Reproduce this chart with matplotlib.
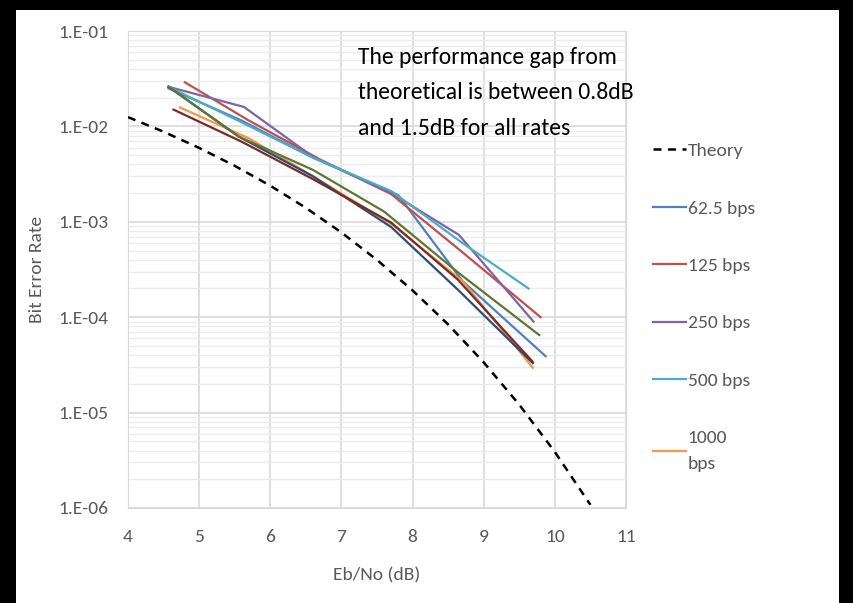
import math
import matplotlib
matplotlib.use("Agg")
import matplotlib.pyplot as plt
from matplotlib.patches import Rectangle
from matplotlib.ticker import LogLocator, FixedLocator, FuncFormatter

FONT = ['Carlito', 'Liberation Sans Narrow', 'DejaVu Sans']
plt.rcParams['font.family'] = FONT

# ---- data ----
theory_x = [4.0, 4.5, 5.0, 5.5, 6.0, 6.5, 7.0, 7.5, 8.0, 8.5, 9.0, 9.5, 10.0, 10.5]
theory_y = [1.25e-2, 8.8e-3, 5.95e-3, 3.86e-3, 2.39e-3, 1.40e-3, 7.73e-4, 3.98e-4,
            1.91e-4, 8.4e-5, 3.36e-5, 1.21e-5, 3.87e-6, 1.08e-6]

x_62 = [4.57, 5.6, 6.6, 7.8, 8.7, 9.87]
y_62 = [2.5e-2, 1.15e-2, 4.7e-3, 1.9e-3, 2.4e-4, 3.9e-5]

x_125 = [4.8, 5.7, 6.7, 7.7, 8.7, 9.8]
y_125 = [2.9e-2, 1.15e-2, 4.5e-3, 1.95e-3, 4.8e-4, 1.0e-4]

x_250 = [4.57, 5.63, 6.6, 7.7, 8.65, 9.7]
y_250 = [2.6e-2, 1.6e-2, 4.8e-3, 2.0e-3, 7.3e-4, 9.0e-5]

x_500 = [4.57, 5.6, 6.6, 7.7, 8.7, 9.63]
y_500 = [2.6e-2, 1.1e-2, 4.7e-3, 2.1e-3, 6.0e-4, 2.0e-4]

x_1000 = [4.73, 5.7, 6.6, 7.7, 8.7, 9.69]
y_1000 = [1.58e-2, 7.5e-3, 3.0e-3, 9.5e-4, 2.4e-4, 2.95e-5]

x_s7 = [4.57, 5.56, 6.6, 7.7, 8.65, 9.69]
y_s7 = [2.6e-2, 7.8e-3, 3.0e-3, 8.8e-4, 1.9e-4, 3.3e-5]

x_s8 = [4.64, 5.6, 6.6, 7.7, 8.63, 9.69]
y_s8 = [1.5e-2, 6.9e-3, 2.8e-3, 9.8e-4, 2.5e-4, 3.4e-5]

x_s9 = [4.57, 5.56, 6.6, 7.6, 8.65, 9.78]
y_s9 = [2.6e-2, 7.8e-3, 3.5e-3, 1.28e-3, 2.9e-4, 6.5e-5]

x_ticks = [4, 5, 6, 7, 8, 9, 10, 11]
legend_labels = ['Theory', '62.5 bps', '125 bps', '250 bps', '500 bps', '1000\nbps']

# ---- figure ----
fig = plt.figure(figsize=(8.54, 6.03), dpi=100, facecolor='black')
fig.patches.append(Rectangle((16/854, 0), (839-16)/854, 1 - 10/603,
                             transform=fig.transFigure, facecolor='white',
                             edgecolor='none', zorder=-10))

ax = fig.add_axes([128/854, 1 - 508/603, (626-128)/854, (508-31)/603])
ax.set_facecolor('white')

lw = 1.6
ax.plot(theory_x, theory_y, color='black', lw=1.8, ls=(0, (3.2, 2.6)), label=legend_labels[0], zorder=3)
ax.plot(x_62, y_62, color='#4F81BD', lw=lw, label=legend_labels[1], zorder=4)
ax.plot(x_125, y_125, color='#C0504D', lw=lw, label=legend_labels[2], zorder=4)
ax.plot(x_250, y_250, color='#8064A2', lw=lw, label=legend_labels[3], zorder=4)
ax.plot(x_500, y_500, color='#4BACC6', lw=lw, label=legend_labels[4], zorder=4)
ax.plot(x_1000, y_1000, color='#F79646', lw=lw, label=legend_labels[5], zorder=4)
ax.plot(x_s7, y_s7, color='#2C4D75', lw=lw, zorder=4)
ax.plot(x_s8, y_s8, color='#772C2A', lw=lw, zorder=4)
ax.plot(x_s9, y_s9, color='#5F7530', lw=lw, zorder=4)

ax.set_yscale('log')
ax.set_xlim(4, 11)
ax.set_ylim(1e-6, 1e-1)
ax.xaxis.set_major_locator(FixedLocator(x_ticks))
ax.yaxis.set_major_locator(LogLocator(base=10, numticks=10))
ax.yaxis.set_minor_locator(LogLocator(base=10, subs=range(2, 10), numticks=100))
ax.yaxis.set_minor_formatter(FuncFormatter(lambda v, p: ''))
ax.yaxis.set_major_formatter(FuncFormatter(lambda v, p: '1.E-%02d' % round(-math.log10(v))))

ax.grid(True, which='major', color='#d9d9d9', lw=1.2)
ax.grid(True, which='minor', axis='y', color='#ececec', lw=1.0)
ax.set_axisbelow(True)
for s in ax.spines.values():
    s.set_color('#d9d9d9')
ax.tick_params(which='both', length=0, colors='#595959', labelsize=14)
ax.tick_params(axis='y', pad=14)
ax.tick_params(axis='x', pad=15)

ax.set_xlabel('Eb/No (dB)', fontsize=14, color='#595959', labelpad=16)
ax.set_ylabel('Bit Error Rate', fontsize=14, color='#595959', labelpad=10)

ax.text(0.462, 0.966, 'The performance gap from\ntheoretical is between 0.8dB\nand 1.5dB for all rates',
        transform=ax.transAxes, fontsize=17, color='black', va='top', ha='left',
        linespacing=1.84, zorder=5)

leg = ax.legend(loc='upper left', bbox_to_anchor=(635/854, 1 - 125/603),
                bbox_transform=fig.transFigure, frameon=False, fontsize=14,
                labelcolor='#595959', handlelength=1.7, handletextpad=0.1,
                labelspacing=2.1)
for t in leg.get_texts():
    t.set_linespacing(1.8)

fig.savefig('out.png', dpi=100, facecolor=fig.get_facecolor())
